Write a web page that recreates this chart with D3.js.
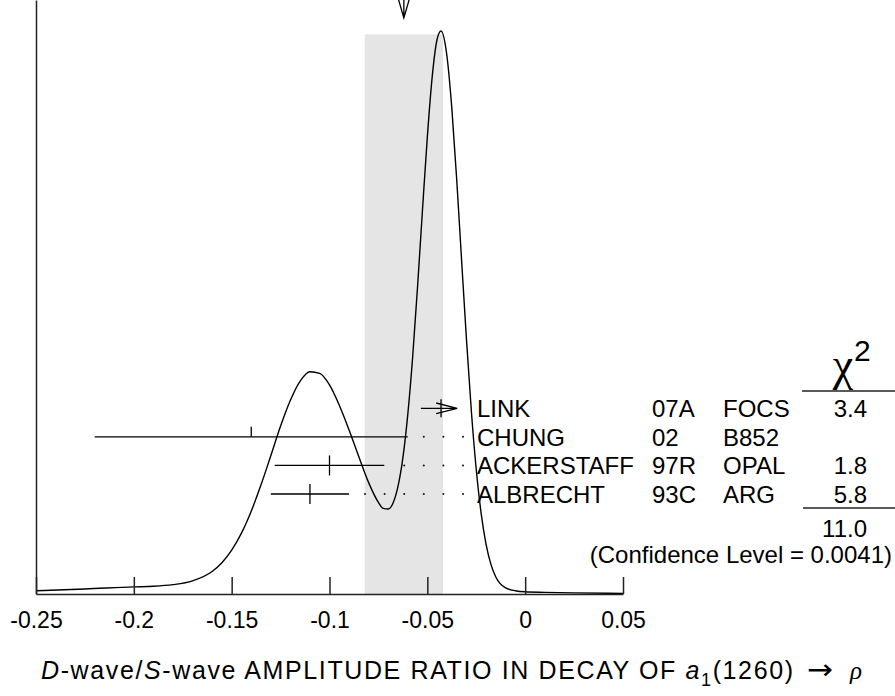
<!DOCTYPE html>
<html>
<head>
<meta charset="utf-8">
<script src="https://cdn.jsdelivr.net/npm/d3@7"></script>
<style>
  body { margin: 0; background: #fff; }
  svg text { font-family: "Liberation Sans", Arial, Helvetica, sans-serif; fill: #000; }
</style>
</head>
<body>
<div id="chart"></div>
<script>
// Ideogram curve (relative height, peak ~1)
const curveX = [-0.25, -0.225, -0.2, -0.19, -0.18, -0.17, -0.16, -0.155, -0.15, -0.145,
  -0.14, -0.135, -0.13, -0.125, -0.12, -0.115, -0.11, -0.105, -0.1, -0.095,
  -0.09, -0.085, -0.08, -0.075, -0.0725, -0.07, -0.0675, -0.065, -0.0625, -0.06,
  -0.0575, -0.055, -0.0525, -0.05, -0.0475, -0.045, -0.043, -0.04, -0.0375, -0.035,
  -0.0325, -0.03, -0.0275, -0.025, -0.0225, -0.02, -0.0175, -0.015, -0.01, -0.005,
  0, 0.01, 0.025, 0.05];
const curveY = [0.006, 0.009, 0.013, 0.014, 0.017, 0.024, 0.041, 0.057, 0.080, 0.111,
  0.151, 0.199, 0.252, 0.306, 0.353, 0.388, 0.405, 0.402, 0.381, 0.344,
  0.299, 0.250, 0.203, 0.167, 0.156, 0.155, 0.166, 0.196, 0.248, 0.327,
  0.432, 0.560, 0.699, 0.833, 0.943, 1.011, 1.026, 0.981, 0.886, 0.756,
  0.609, 0.464, 0.333, 0.227, 0.147, 0.091, 0.054, 0.031, 0.011, 0.006,
  0.004, 0.003, 0.002, 0.001];

// Measurements
const names = ["LINK", "CHUNG", "ACKERSTAFF", "ALBRECHT"];
const years = ["07A", "02", "97R", "93C"];
const experiments = ["FOCS", "B852", "OPAL", "ARG"];
const values = [-0.043, -0.14, -0.10, -0.11];
const errors = [0.0103, 0.08, 0.028, 0.02];
const chi2 = ["3.4", "", "1.8", "5.8"];

// Weighted average and fit summary
const average = -0.062;
const averageError = 0.020;
const chi2Total = "11.0";
const confidenceLevel = "0.0041";

// Axis ticks
const tickValues = [-0.25, -0.2, -0.15, -0.1, -0.05, 0, 0.05];
const tickLabels = ["-0.25", "-0.2", "-0.15", "-0.1", "-0.05", "0", "0.05"];

const width = 895, height = 696;

const svg = d3.select("#chart")
    .append("svg")
    .attr("width", width)
    .attr("height", height);

// Scales
const x = d3.scaleLinear().domain([-0.25, 0.05]).range([36, 623]);
const y = d3.scaleLinear().domain([0, 1.0826]).range([594, 0]);
const row = d3.scaleLinear().domain([0, 3]).range([408.3, 494]);

// Shaded band = average +- error
svg.append("rect")
    .attr("x", x(average - averageError))
    .attr("y", y(1.02))
    .attr("width", x(average + averageError) - x(average - averageError))
    .attr("height", y(0) - y(1.02))
    .attr("fill", "#e5e5e5");

// Arrow at the top marking the average
const ax = x(average);
svg.append("path")
    .attr("d", `M${ax - 5.5},-1L${ax},18L${ax + 5.5},-1M${ax},-1V18`)
    .attr("fill", "none")
    .attr("stroke", "#000")
    .attr("stroke-width", 1.3);

// Ideogram
const curveData = curveX.map((v, i) => ({x: v, y: curveY[i]}));
const line = d3.line()
    .x(d => x(d.x))
    .y(d => y(d.y))
    .curve(d3.curveMonotoneX);

svg.append("path")
    .datum(curveData)
    .attr("fill", "none")
    .attr("stroke", "#000")
    .attr("stroke-width", 1.4)
    .attr("d", line);

// Axes
const xAxis = svg.append("g")
    .attr("transform", `translate(0,${y(0)})`)
    .call(d3.axisBottom(x)
        .tickValues(tickValues)
        .tickFormat((d, i) => tickLabels[i])
        .tickSize(-17)
        .tickSizeOuter(0)
        .tickPadding(18));
xAxis.selectAll("path, line").attr("stroke", "#222").attr("stroke-width", 1.5);
xAxis.selectAll("text")
    .attr("font-size", 23)
    .style("font-family", "'Liberation Sans', Arial, sans-serif")
    .attr("fill", "#000");

const yAxis = svg.append("g")
    .attr("transform", `translate(${x(-0.25)},0)`)
    .call(d3.axisLeft(y).tickValues([]).tickSizeOuter(0));
yAxis.select("path").attr("stroke", "#222").attr("stroke-width", 1.5);

// Error bars
names.forEach((name, i) => {
    const cy = row(i);
    const lo = x(values[i] - errors[i]);
    const hi = x(values[i] + errors[i]);
    const g = svg.append("g")
        .attr("stroke", "#000")
        .attr("stroke-width", 1.3)
        .attr("fill", "none");

    if (i === 0) {
        // drawn as an arrow
        const tip = hi - 4;
        g.append("path").attr("d", `M${lo},${cy}H${tip}M${tip - 21},${cy - 5.3}L${tip},${cy}L${tip - 21},${cy + 5.3}`);
        g.append("line").attr("x1", x(values[i])).attr("x2", x(values[i]))
            .attr("y1", cy - 9).attr("y2", cy + 9);
    } else {
        g.append("line").attr("x1", lo).attr("x2", hi).attr("y1", cy).attr("y2", cy);
        g.append("line").attr("x1", x(values[i])).attr("x2", x(values[i]))
            .attr("y1", cy - 10).attr("y2", i === 1 ? cy : cy + 10);
        // dotted leader to the label
        const dots = d3.range(463, hi + 4, -19.6);
        svg.selectAll(null)
            .data(dots)
            .enter().append("circle")
            .attr("cx", d => d)
            .attr("cy", cy)
            .attr("r", 1)
            .attr("fill", "#111");
    }
});

// Labels
const labels = svg.append("g").attr("font-size", 24);
names.forEach((name, i) => {
    const by = row(i) + 8.8;
    labels.append("text").attr("x", 477).attr("y", by).text(name);
    labels.append("text").attr("x", 652).attr("y", by).text(years[i]);
    labels.append("text").attr("x", 723).attr("y", by).text(experiments[i]);
    labels.append("text").attr("x", 867).attr("y", by)
        .attr("text-anchor", "end").text(chi2[i]);
});

// Chi-square header and totals
svg.append("text")
    .attr("x", 843).attr("y", 380)
    .attr("text-anchor", "middle")
    .attr("font-size", 46)
    .style("font-family", "'Liberation Serif', 'DejaVu Serif', serif")
    .text("χ");
svg.append("text")
    .attr("x", 854).attr("y", 361)
    .attr("font-size", 30)
    .text("2");
svg.append("line")
    .attr("x1", 802).attr("x2", 895).attr("y1", 391).attr("y2", 391)
    .attr("stroke", "#222").attr("stroke-width", 1.5);
svg.append("line")
    .attr("x1", 803).attr("x2", 895).attr("y1", 508).attr("y2", 508)
    .attr("stroke", "#222").attr("stroke-width", 1.5);
labels.append("text")
    .attr("x", 867).attr("y", 537)
    .attr("text-anchor", "end")
    .text(chi2Total);
labels.append("text")
    .attr("x", 892).attr("y", 563)
    .attr("text-anchor", "end")
    .text(`(Confidence Level = ${confidenceLevel})`);

// Title
const title = svg.append("text")
    .attr("x", 41).attr("y", 679)
    .attr("font-size", 25)
    .attr("textLength", 752)
    .attr("lengthAdjust", "spacing");
title.append("tspan").attr("font-style", "italic").text("D");
title.append("tspan").text("-wave/");
title.append("tspan").attr("font-style", "italic").text("S");
title.append("tspan").text("-wave AMPLITUDE RATIO IN DECAY OF ");
title.append("tspan").attr("font-style", "italic").text("a");
title.append("tspan").attr("dy", 7).attr("font-size", 18).text("1");
title.append("tspan").attr("dy", -7).text("(1260)");
svg.append("text")
    .attr("x", 807).attr("y", 679)
    .attr("font-size", 28)
    .attr("textLength", 26)
    .attr("lengthAdjust", "spacingAndGlyphs")
    .style("font-family", "'DejaVu Sans', sans-serif")
    .text("\u2192");
svg.append("text")
    .attr("x", 850).attr("y", 679)
    .attr("font-size", 25)
    .attr("font-style", "italic")
    .style("font-family", "'Liberation Serif', 'DejaVu Serif', serif")
    .text("ρ");
</script>
</body>
</html>
